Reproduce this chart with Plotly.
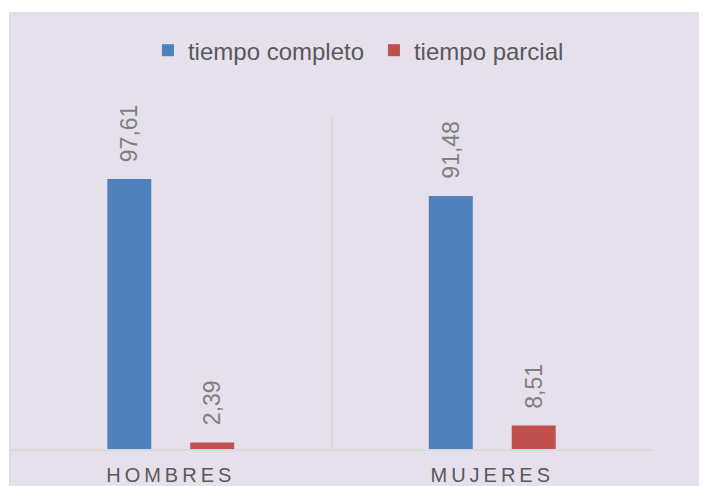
import plotly.graph_objects as go

# data
categories = ["HOMBRES", "MUJERES"]
series_names = ["tiempo completo", "tiempo parcial"]
completo = [97.61, 91.48]
parcial = [2.39, 8.51]
series_values = [completo, parcial]
series_colors = ["#4F81BD", "#C0504D"]

FONT = "Arial, Liberation Sans, sans-serif"
BG = "#E6E0EC"
GRID = "#D9D9D9"


def fmt(v):
    # spanish decimal comma
    return ("%.2f" % v).replace(".", ",")


fig = go.Figure()

for name, vals, col in zip(series_names, series_values, series_colors):
    fig.add_trace(go.Bar(
        x=categories,
        y=vals,
        name=name,
        marker=dict(color=col, line=dict(width=0)),
    ))

# data labels, rotated, above each bar
shifts = [-41.5, 41.5]
for vals, dx in zip(series_values, shifts):
    for cat, v in zip(categories, vals):
        fig.add_annotation(
            x=cat, y=v, xref="x", yref="y",
            text=fmt(v),
            textangle=-90,
            showarrow=False,
            xanchor="center", yanchor="bottom",
            xshift=dx, yshift=15,
            font=dict(family=FONT, size=23, color="#7F7F7F"),
        )

# chart area background with thin border
fig.add_shape(
    type="rect", xref="paper", yref="paper",
    x0=0, x1=1.1, y0=-0.15, y1=(441 - 5) / 332,
    fillcolor=BG, line=dict(color=GRID, width=1.5), layer="below",
)

# the page body adds 8px around the figure, so the figure is 8px smaller
fig.update_layout(
    width=699, height=478,
    margin=dict(l=2, r=54, t=109, b=37, autoexpand=False),
    paper_bgcolor="white",
    plot_bgcolor="rgba(0,0,0,0)",
    barmode="group",
    bargap=0.484,
    bargroupgap=0.47,
    font=dict(family=FONT, color="#595959"),
    showlegend=True,
    legend=dict(
        orientation="h",
        x=0.566, xanchor="center",
        y=1.2, yanchor="middle",
        font=dict(family=FONT, size=24, color="#595959"),
        bgcolor="rgba(0,0,0,0)",
        itemsizing="constant",
        entrywidth=181,
    ),
    xaxis=dict(
        automargin=False,
        tickson="boundaries",
        showgrid=True, gridcolor=GRID, gridwidth=1.5,
        showline=True, linecolor=GRID, linewidth=1.5,
        ticks="",
        ticklabelstandoff=7,
        tickmode="array",
        tickvals=categories,
        ticktext=['<span style="letter-spacing:4px">%s</span>' % c for c in categories],
        tickfont=dict(family=FONT, size=20, color="#595959"),
        fixedrange=True,
    ),
    yaxis=dict(
        automargin=False,
        range=[0, 120],
        showgrid=False, zeroline=False,
        showticklabels=False, ticks="",
        fixedrange=True,
    ),
)

fig.write_html("out.html")
